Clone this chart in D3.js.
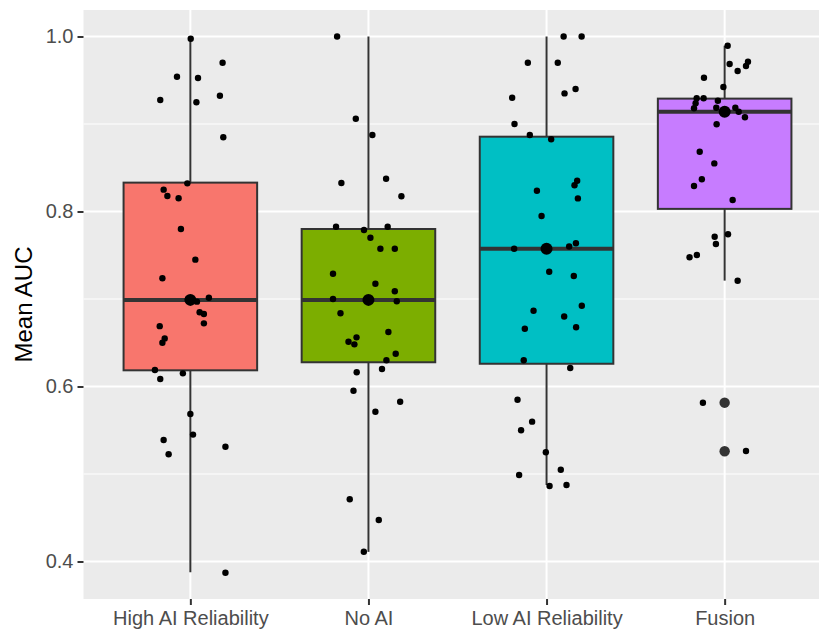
<!DOCTYPE html>
<html>
<head>
<meta charset="utf-8">
<script src="https://cdn.jsdelivr.net/npm/d3@7"></script>
<style>
  body { margin: 0; background: #fff; }
  text { font-family: "Liberation Sans", Arial, sans-serif; }
</style>
</head>
<body>
<div id="chart"></div>
<script>
// groups on the x axis
var groups = ["High AI Reliability", "No AI", "Low AI Reliability", "Fusion"];
var fills = ["#F8766D", "#7CAE00", "#00BFC4", "#C77CFF"];

// box stats
var q1 = [0.6185, 0.6277, 0.626, 0.803];
var medians = [0.699, 0.699, 0.7575, 0.914];
var q3 = [0.833, 0.780, 0.8855, 0.929];
var whiskerLow = [0.3877, 0.411, 0.4874, 0.721];
var whiskerHigh = [0.998, 1.0, 1.0, 0.9895];
var means = [0.699, 0.699, 0.7575, 0.914];
var outliers = [[], [], [], [0.5815, 0.526]];

// jittered points: [jitter (category units), Mean AUC]
var highPts = [[0.002,0.9975],[0.181,0.970],[-0.075,0.954],[0.043,0.9526],[-0.169,0.9274],[0.034,0.9248],
  [0.166,0.9323],[0.185,0.8848],[-0.017,0.8322],[-0.150,0.825],[-0.129,0.8177],[-0.066,0.8151],
  [-0.053,0.780],[0.028,0.745],[-0.157,0.7237],[-0.013,0.700],[0.037,0.697],[0.104,0.7015],
  [0.052,0.6848],[0.076,0.6829],[0.076,0.6722],[-0.172,0.669],[-0.144,0.655],[-0.157,0.650],
  [-0.199,0.6189],[-0.169,0.6086],[-0.042,0.615],[0,0.5686],[0.015,0.545],[-0.150,0.5389],
  [-0.122,0.5225],[0.197,0.5312],[0.197,0.3872]];
var noAiPts = [[-0.176,1.0],[-0.071,0.906],[0.022,0.8874],[-0.152,0.8326],[0.099,0.8375],[0.185,0.8174],
  [-0.182,0.7826],[-0.025,0.7789],[0.108,0.7826],[0.011,0.770],[0.067,0.7575],[0.148,0.7575],
  [-0.199,0.7289],[0.039,0.7175],[0.148,0.7088],[-0.199,0.700],[0.159,0.6974],[-0.157,0.6837],
  [0.112,0.6623],[-0.067,0.6562],[-0.112,0.6512],[-0.079,0.6482],[0.153,0.6375],[0.101,0.630],
  [-0.066,0.6162],[0.076,0.620],[-0.084,0.5952],[0.178,0.5826],[0.039,0.5712],[-0.105,0.4711],
  [0.058,0.4474],[-0.026,0.4112]];
var lowPts = [[0.096,1.0],[0.197,1.0],[-0.105,0.970],[0.063,0.970],[-0.193,0.930],[0.101,0.935],
  [0.163,0.940],[-0.180,0.900],[-0.094,0.8874],[0.026,0.8825],[0.172,0.8352],[0.157,0.830],
  [-0.054,0.8238],[0.176,0.815],[-0.028,0.7949],[-0.182,0.7575],[0.127,0.760],[0.165,0.7637],
  [0.015,0.7312],[0.153,0.7263],[0.198,0.6923],[-0.073,0.6866],[0.099,0.680],[-0.122,0.666],
  [0.166,0.6677],[-0.128,0.630],[0.133,0.6211],[-0.163,0.5849],[-0.081,0.5598],[-0.143,0.550],
  [-0.004,0.5248],[0.080,0.5049],[-0.154,0.4989],[0.017,0.4863],[0.112,0.4874]];
var fusionPts = [[0.017,0.9895],[0.028,0.9686],[0.073,0.9606],[0.131,0.9712],[0.120,0.9663],[-0.116,0.9529],
  [-0.007,0.9423],[-0.157,0.9294],[-0.118,0.9294],[-0.038,0.9266],[-0.163,0.9237],[-0.172,0.918],
  [-0.047,0.9186],[0.060,0.9186],[0.079,0.914],[0.114,0.9077],[-0.045,0.8997],[-0.140,0.8683],
  [-0.058,0.855],[-0.128,0.8368],[-0.172,0.8291],[0.045,0.8131],[-0.056,0.7712],[0.019,0.774],
  [-0.049,0.7629],[-0.156,0.7503],[-0.197,0.7477],[0.073,0.7209],[-0.122,0.5815],[0.120,0.5263]];
var points = [highPts, noAiPts, lowPts, fusionPts];

var yTicks = [0.4, 0.6, 0.8, 1.0];
var yMinor = [0.5, 0.7, 0.9];

var svgWidth = 819, svgHeight = 631;
var margin = {top: 10, left: 83.5, bottom: 32};
var width = 748;   // panel runs past the right edge, like the original crop
var height = svgHeight - margin.top - margin.bottom;

var svg = d3.select("#chart").append("svg")
  .attr("width", svgWidth)
  .attr("height", svgHeight);

var chartGroup = svg.append("g")
  .attr("transform", `translate(${margin.left}, ${margin.top})`);

// scales: categories sit at 1..4 with ggplot's 0.6 expansion
var xScale = d3.scaleLinear().domain([0.4, 4.6]).range([0, width]);
var yScale = d3.scaleLinear().domain([0.35714, 1.03029]).range([height, 0]);

// panel background + grid
chartGroup.append("rect")
  .attr("width", width).attr("height", height)
  .attr("fill", "#EBEBEB");

chartGroup.selectAll(".minor").data(yMinor).enter().append("line")
  .attr("x1", 0).attr("x2", width)
  .attr("y1", d => yScale(d)).attr("y2", d => yScale(d))
  .attr("stroke", "#fff").attr("stroke-width", 1);

chartGroup.selectAll(".major").data(yTicks).enter().append("line")
  .attr("x1", 0).attr("x2", width)
  .attr("y1", d => yScale(d)).attr("y2", d => yScale(d))
  .attr("stroke", "#fff").attr("stroke-width", 2);

chartGroup.selectAll(".vgrid").data(groups).enter().append("line")
  .attr("x1", (d, i) => xScale(i + 1)).attr("x2", (d, i) => xScale(i + 1))
  .attr("y1", 0).attr("y2", height)
  .attr("stroke", "#fff").attr("stroke-width", 2);

// boxes
var boxW = xScale(1.375) - xScale(0.625);
var boxes = chartGroup.selectAll(".box").data(groups).enter().append("g");

boxes.append("line")
  .attr("x1", (d, i) => xScale(i + 1)).attr("x2", (d, i) => xScale(i + 1))
  .attr("y1", (d, i) => yScale(whiskerHigh[i])).attr("y2", (d, i) => yScale(q3[i]))
  .attr("stroke", "#333").attr("stroke-width", 2);
boxes.append("line")
  .attr("x1", (d, i) => xScale(i + 1)).attr("x2", (d, i) => xScale(i + 1))
  .attr("y1", (d, i) => yScale(q1[i])).attr("y2", (d, i) => yScale(whiskerLow[i]))
  .attr("stroke", "#333").attr("stroke-width", 2);
boxes.append("rect")
  .attr("x", (d, i) => xScale(i + 1) - boxW / 2)
  .attr("y", (d, i) => yScale(q3[i]))
  .attr("width", boxW)
  .attr("height", (d, i) => yScale(q1[i]) - yScale(q3[i]))
  .attr("fill", (d, i) => fills[i])
  .attr("stroke", "#333").attr("stroke-width", 2);
boxes.append("line")
  .attr("x1", (d, i) => xScale(i + 1) - boxW / 2).attr("x2", (d, i) => xScale(i + 1) + boxW / 2)
  .attr("y1", (d, i) => yScale(medians[i])).attr("y2", (d, i) => yScale(medians[i]))
  .attr("stroke", "#333").attr("stroke-width", 4);

// outliers
outliers.forEach(function(list, i) {
  chartGroup.selectAll(null).data(list).enter().append("circle")
    .attr("cx", xScale(i + 1))
    .attr("cy", d => yScale(d))
    .attr("r", 5.2)
    .attr("fill", "#333");
});

// jittered points
points.forEach(function(list, i) {
  chartGroup.selectAll(null).data(list).enter().append("circle")
    .attr("cx", d => xScale(i + 1 + d[0]))
    .attr("cy", d => yScale(d[1]))
    .attr("r", 3.2)
    .attr("fill", "#000");
});

// means
chartGroup.selectAll(".mean").data(means).enter().append("circle")
  .attr("cx", (d, i) => xScale(i + 1))
  .attr("cy", d => yScale(d))
  .attr("r", 6)
  .attr("fill", "#000");

// axes
var leftAxis = d3.axisLeft(yScale).tickValues(yTicks).tickFormat(d3.format(".1f"))
  .tickSize(6).tickPadding(4);
var bottomAxis = d3.axisBottom(xScale).tickValues([1, 2, 3, 4])
  .tickFormat(d => groups[d - 1]).tickSize(6).tickPadding(6);

var yAx = chartGroup.append("g").call(leftAxis);
var xAx = chartGroup.append("g").attr("transform", `translate(0, ${height})`).call(bottomAxis);

[yAx, xAx].forEach(function(ax) {
  ax.select(".domain").remove();
  ax.selectAll(".tick line").attr("stroke", "#333").attr("stroke-width", 2);
  ax.selectAll(".tick text")
    .attr("fill", "#4D4D4D")
    .style("font-size", "20px")
    .style("font-family", "'Liberation Sans', Arial, sans-serif");
});

// axis title
svg.append("text")
  .attr("transform", `translate(32, ${margin.top + height / 2}) rotate(-90)`)
  .attr("text-anchor", "middle")
  .style("font-size", "24px")
  .attr("fill", "#000")
  .text("Mean AUC");
</script>
</body>
</html>
